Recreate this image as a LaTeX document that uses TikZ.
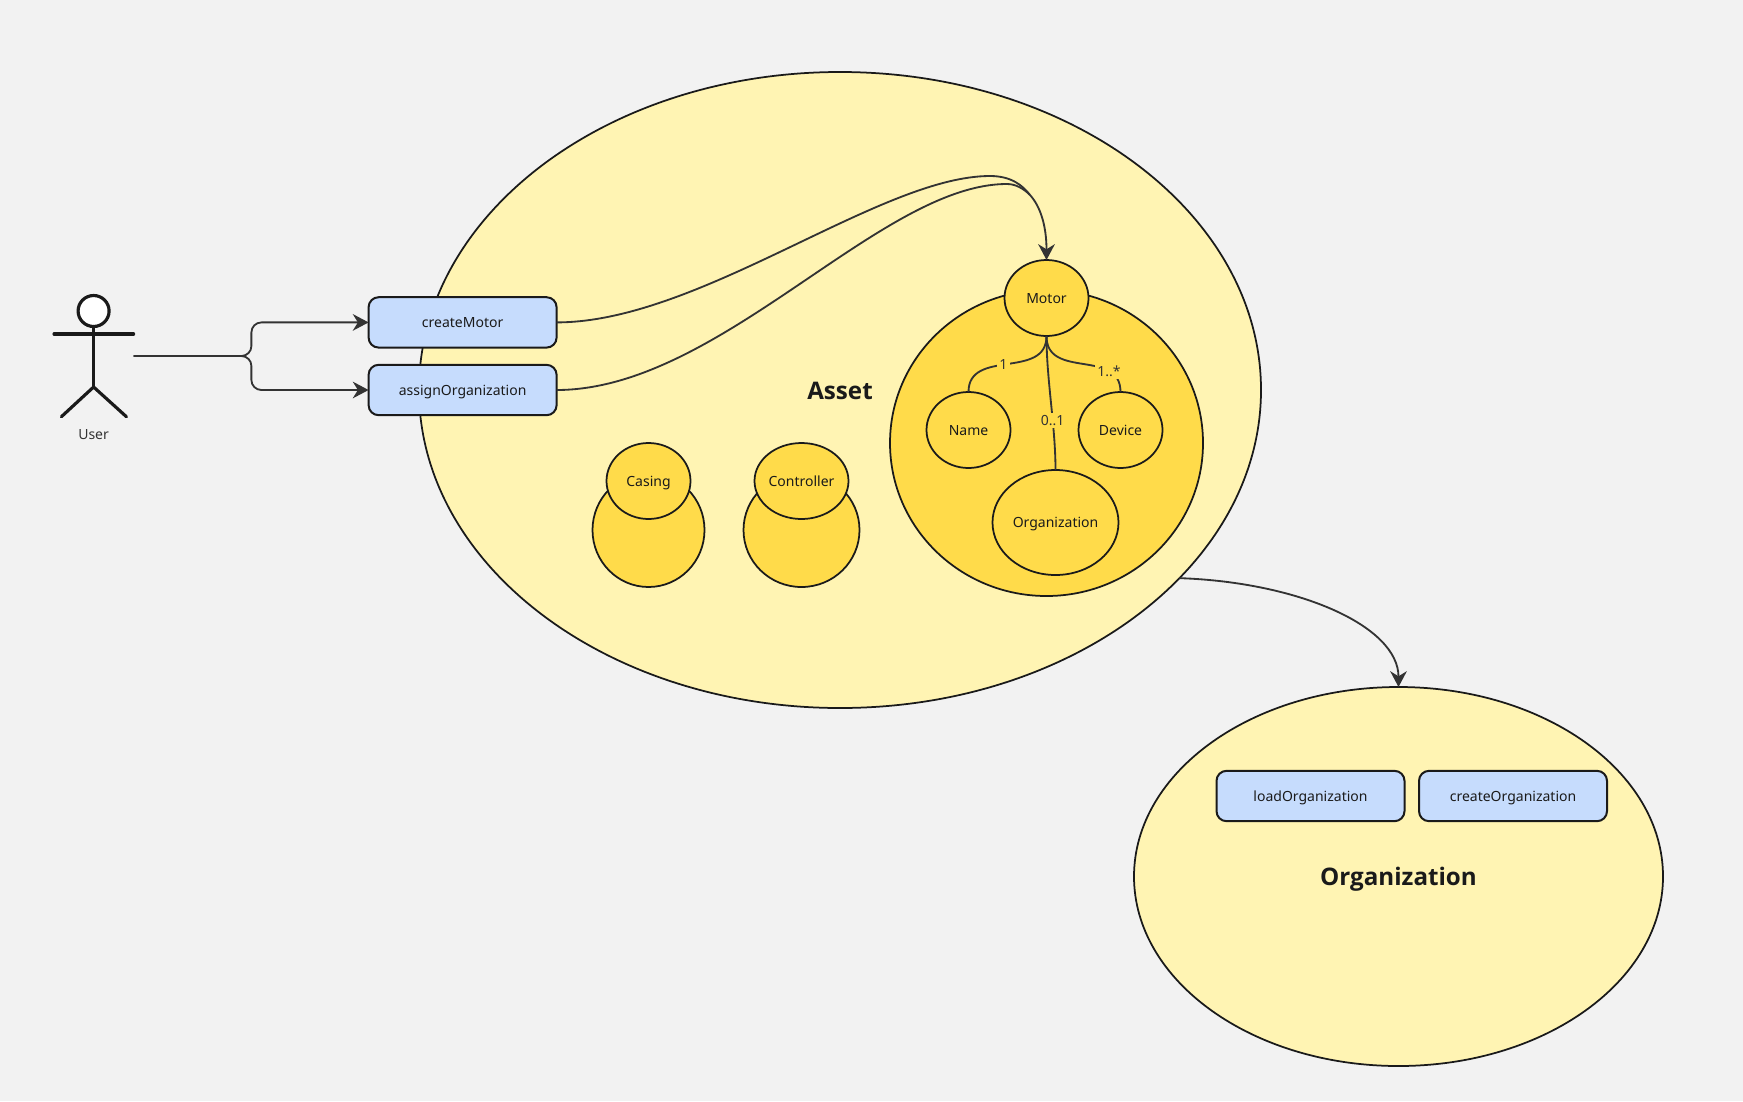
\documentclass[tikz,border=0pt]{standalone}
\usepackage{fontspec}
\setmainfont{Noto Sans}
\newfontfamily\headfont{Open Sans}
\usepackage{xcolor}
\usepackage{tikz}
\usetikzlibrary{calc,arrows.meta,shapes.geometric}
\definecolor{pagebg}{HTML}{F2F2F2}
\definecolor{pale}{HTML}{FFF4B3}
\definecolor{gold}{HTML}{FFDB4A}
\definecolor{sky}{HTML}{C6DCFD}
\definecolor{ink}{HTML}{1A1A1A}
\definecolor{wire}{HTML}{333333}
\tikzset{
  blob/.style n args={2}{ellipse, draw=ink, line width=1.05pt, inner sep=0pt, outer sep=0pt, text=ink,
    minimum width=#1*0.6pt, minimum height=#2*0.6pt},
  big/.style={fill=pale, text height=11pt, text depth=0pt, font=\headfont\fontsize{14.5}{16}\selectfont\bfseries},
  part/.style={fill=gold, text height=8.2pt, text depth=1.9pt, font=\fontsize{8.4}{11}\selectfont},
  act/.style={rectangle, draw=ink, fill=sky, line width=1.2pt, rounded corners=6pt, outer sep=0pt, text=ink,
    minimum width=112.8pt, minimum height=30.2pt, text height=8.2pt, text depth=1.9pt, font=\fontsize{8.4}{11}\selectfont},
  link/.style={draw=wire, line width=1.1pt, -{Stealth[length=9.5pt,width=10pt]}},
  tie/.style={draw=wire, line width=1.1pt},
  tag/.style={fill=gold, text=wire, inner sep=1.5pt, font=\fontsize{8.4}{11}\selectfont},
  limb/.style={draw=ink, line width=1.9pt, line cap=round},
}

\begin{document}
\begin{tikzpicture}[x=0.6pt,y=-0.6pt]
  \fill[pagebg] (0,0) rectangle (1743,1101);
  % containers
  \node[blob={842}{636}, big] (asset) at (840,390) {Asset};
  \node[blob={529}{379}, big] (orgarea) at (1398.5,876.5) {Organization};
  \node[blob={313}{306}, part] (motorbody) at (1046.5,443) {};
  \node[blob={112}{114}, part] (casingbody) at (648.5,530) {};
  \node[blob={116}{114}, part] (ctrlbody) at (801.5,530) {};
  % parts
  \node[blob={84}{76}, part] (motor) at (1046.5,298) {Motor};
  \node[blob={84}{76}, part] (name) at (968.5,430) {Name};
  \node[blob={84}{76}, part] (device) at (1120.5,430) {Device};
  \node[blob={126}{105}, part] (orgpart) at (1055.5,522.5) {Organization};
  \node[blob={84}{76}, part] (casing) at (648.5,481) {Casing};
  \node[blob={94}{76}, part] (ctrl) at (801.5,481) {Controller};
  % actions
  \node[act] (create) at (462.6,322.4) {createMotor};
  \node[act] (assign) at (462.6,390) {assignOrganization};
  \node[act] (load) at (1310.5,796) {loadOrganization};
  \node[act] (neworg) at (1513,796) {createOrganization};
  % actor
  \node[circle, draw=ink, fill=white, line width=1.9pt, minimum size=18.6pt, inner sep=0pt, outer sep=0pt] (head) at (93.6,311) {};
  \coordinate (hip) at (93.6,387);
  \draw[limb] (head.south) -- (hip);
  \draw[limb] (54,334) -- (133.6,334);
  \draw[limb] (61.4,416.7) -- (hip) -- (126.4,416.7);
  \node[text=wire, font=\fontsize{8.4}{11}\selectfont] (user) at (93.6,435) {User};
  % connectors
  \coordinate (userout) at (133.6,356);
  \coordinate (fork) at (251.4,356);
  \coordinate (merge) at (1030,195);
  \draw[link, rounded corners=6pt] (userout) -- (fork) |- (create.west);
  \draw[link, rounded corners=6pt] (userout) -- (fork) |- (assign.west);
  \draw[tie] (create.east) .. controls +(143,0) and (880,176) .. (990,176) .. controls (1012,176) and (1023,186) .. (merge);
  \draw[tie] (assign.east) .. controls +(163,0) and (880,184) .. (1007,184) .. controls (1016,184) and (1024,189) .. (merge);
  \draw[link] (merge) .. controls (1040,206) and (1046.5,225) .. (motor.north);
  \draw[link] (asset.-29) .. controls +(119,4) and +(0,-61) .. (orgarea.north);
  \draw[tie] (motor.south) .. controls +(0,44) and +(0,-44) .. node[tag, pos=0.535] {1} (name.north);
  \draw[tie] (motor.south) .. controls +(0,44) and +(0,-44) .. node[tag, pos=0.63] {0..1} (orgpart.north);
  \draw[tie] (motor.south) .. controls +(0,44) and +(0,-44) .. node[tag, pos=0.75] {1..*} (device.north);
\end{tikzpicture}
\end{document}
